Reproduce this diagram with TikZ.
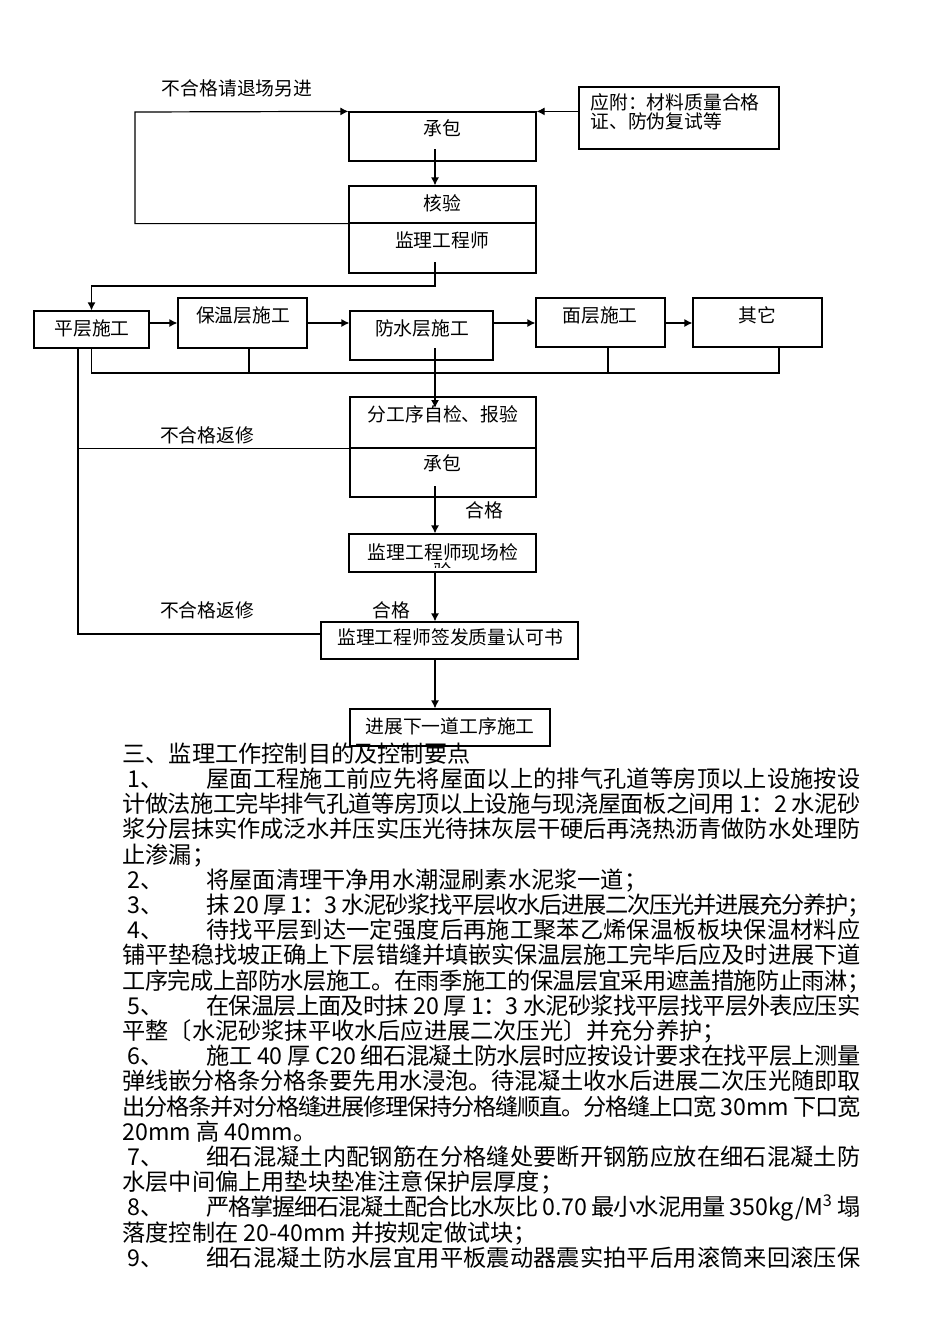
\documentclass[tikz,border=0pt]{standalone}
\usepackage{fontspec}
\setmainfont{Noto Sans CJK SC}
\usetikzlibrary{arrows.meta,fit}
% glue between CJK characters, so that lines can be justified
\newcount\cjkc
\cjkc="4E00
\loop
	\XeTeXcharclass\cjkc=1
	\advance\cjkc by 1
\ifnum\cjkc<"A000 \repeat
\XeTeXcharclass"3001=3 \XeTeXcharclass"3002=3 \XeTeXcharclass"FF1A=3
\XeTeXcharclass"FF1B=3 \XeTeXcharclass"3015=3 \XeTeXcharclass"3014=2
\newcommand{\cjkglue}{\hskip 0pt plus 2pt minus 1pt\relax}
\XeTeXinterchartokenstate=1
\XeTeXinterchartoks 1 1 = {\cjkglue}
\XeTeXinterchartoks 1 2 = {\cjkglue}
\XeTeXinterchartoks 1 3 = {\cjkglue}
\XeTeXinterchartoks 3 1 = {\cjkglue}
\XeTeXinterchartoks 3 2 = {\cjkglue}
\XeTeXinterchartoks 0 1 = {\cjkglue}
\XeTeXinterchartoks 1 0 = {\cjkglue}
\XeTeXinterchartoks 3 0 = {\cjkglue}
\XeTeXinterchartoks 0 3 = {\cjkglue}
\newcommand{\justline}[2]{\makebox[#1][s]{#2}}
\tikzset{
	box/.style={draw, line width=0.6pt, inner sep=0pt},
	line/.style={line width=0.6pt},
	arr/.style={line width=0.6pt, -{Latex[length=4pt,width=4pt]}},
	flow/.style={font=\fontsize{9.4pt}{9.6pt}\selectfont, inner sep=0pt},
	body/.style={font=\fontsize{11.6pt}{14pt}\selectfont, inner sep=0pt, anchor=base west}
}
\begin{document}
\begin{tikzpicture}[x=0.5pt,y=-0.5pt]
		\useasboundingbox (0,0) rectangle (950,1344);
		
		%\draw[style=help lines, step=50, color=gray] (0,0) grid (950,1344);
		
		% top: material check
		\node[box, fit={(349,112) (536,161)}] (cb1) {};
		\node[box, fit={(579,87) (779,149)}] (fj) {};
		\node[box, fit={(349,186) (536,223)}] (hy) {};
		\node[box, fit={(349,223) (536,273)}] (jl) {};
		\node[flow] (cb1-t) at (442,128) {承包};
		\node[flow, align=left, anchor=west] (fj-t) at (590,112) {应附：材料质量合格\\证、防伪复试等};
		\node[flow] (hy-t) at (442,203) {核验};
		\node[flow] (jl-t) at (442,240) {监理工程师};
		\node[flow] (l-back) at (237,88) {不合格请退场另进};
		
		\coordinate (tl) at (135,112);
		\draw[arr] (hy.south west) -| (tl) -- (cb1.north west);
		\draw[arr] (fj.west |- cb1.north east) -- (cb1.north east);
		\coordinate (cb1-o) at (435,149);
		\draw[arr] (cb1-o) -- (cb1-o |- hy.north);
		
		% row of works
		\node[box, fit={(34,311) (149,348)}] (pc) {};
		\node[box, fit={(178,298) (307,348)}] (bw) {};
		\node[box, fit={(350,311) (493,360)}] (fs) {};
		\node[box, fit={(536,298) (665,347)}] (mc) {};
		\node[box, fit={(693,298) (822,347)}] (qt) {};
		\node[flow] (pc-t) at (92,328) {平层施工};
		\node[flow] (bw-t) at (243,315) {保温层施工};
		\node[flow] (fs-t) at (422,328) {防水层施工};
		\node[flow] (mc-t) at (600,315) {面层施工};
		\node[flow] (qt-t) at (757,315) {其它};
		
		\coordinate (jl-o) at (435,262);
		\coordinate (turn1) at (435,286);
		\draw[arr] (jl-o) -- (turn1) -| (pc.north);
		
		\coordinate (row) at (0,323);
		\draw[arr] (pc.east |- row) -- (bw.west |- row);
		\draw[arr] (bw.east |- row) -- (fs.west |- row);
		\draw[arr] (fs.east |- row) -- (mc.west |- row);
		\draw[arr] (mc.east |- row) -- (qt.west |- row);
		
		\coordinate (bus) at (0,373);
		\coordinate (bw-o) at (249,348);
		\coordinate (mc-o) at (608,347);
		\coordinate (qt-o) at (779,347);
		\draw[line] (pc.south) |- (qt-o |- bus) -- (qt-o);
		\draw[line] (bw-o) -- (bw-o |- bus);
		\draw[line] (mc-o) -- (mc-o |- bus);
		
		% inspection
		\node[box, fit={(350,397) (536,448)}] (fgx) {};
		\node[box, fit={(350,448) (536,497)}] (cb2) {};
		\node[box, fit={(349,534) (536,572)}] (xc) {};
		\node[box, fit={(321,622) (578,659)}] (qf) {};
		\node[box, fit={(350,709) (550,746)}] (jz) {};
		\node[flow] (fgx-t) at (443,414) {分工序自检、报验};
		\node[flow] (cb2-t) at (442,463) {承包};
		\node[flow] (xc-t) at (443,552) {监理工程师现场检};
		\begin{scope}
			\clip (349,534) rectangle (536,567);
			\node[flow] (xc-t2) at (443,571) {验};
		\end{scope}
		\node[flow] (qf-t) at (450,637) {监理工程师签发质量认可书};
		\node[flow] (jz-t) at (450,726) {进展下一道工序施工};
		\node[flow] (l-fix1) at (207,435) {不合格返修};
		\node[flow] (l-fix2) at (207,610) {不合格返修};
		\node[flow] (l-ok1) at (484,510) {合格};
		\node[flow] (l-ok2) at (391,610) {合格};
		
		\coordinate (fs-o) at (435,348);
		\coordinate (fgx-i) at (435,408);
		\draw[arr] (fs-o) -- (fgx-i);
		\coordinate (cb2-o) at (435,486);
		\draw[arr] (cb2-o) -- (cb2-o |- xc.north);
		\draw[arr] (cb2-o |- xc.south) -- (cb2-o |- qf.north);
		\draw[arr] (cb2-o |- qf.south) -- (cb2-o |- jz.north);
		
		\coordinate (pc-o) at (78,348);
		\coordinate (lp) at (0,634);
		\draw[line] (pc-o) |- (qf.west |- lp);
		\draw[line] (pc-o |- fgx.south west) -- (fgx.south west);
		
		% text below
		\node[body] (s3) at (122,762) {三、监理工作控制目的及控制要点};
		\node[body] (n1) at (127,787) {1、};
		\node[body] (t1a) at (206,787) {\justline{327pt}{屋面工程施工前应先将屋面以上的排气孔道等房顶以上设施按设}};
		\node[body] (t1b) at (122,812) {\justline{369pt}{计做法施工完毕排气孔道等房顶以上设施与现浇屋面板之间用 1：2 水泥砂}};
		\node[body] (t1c) at (122,837) {\justline{369pt}{浆分层抹实作成泛水并压实压光待抹灰层干硬后再浇热沥青做防水处理防}};
		\node[body] (t1d) at (122,863) {止渗漏；};
		\node[body] (n2) at (127,888) {2、};
		\node[body] (t2a) at (206,888) {将屋面清理干净用水潮湿刷素水泥浆一道；};
		\node[body] (n3) at (127,913) {3、};
		\node[body] (t3a) at (206,913) {\justline{332pt}{抹 20 厚 1：3 水泥砂浆找平层收水后进展二次压光并进展充分养护；}};
		\node[body] (n4) at (127,938) {4、};
		\node[body] (t4a) at (206,938) {\justline{327pt}{待找平层到达一定强度后再施工聚苯乙烯保温板板块保温材料应}};
		\node[body] (t4b) at (122,963) {\justline{369pt}{铺平垫稳找坡正确上下层错缝并填嵌实保温层施工完毕后应及时进展下道}};
		\node[body] (t4c) at (122,989) {\justline{374pt}{工序完成上部防水层施工。在雨季施工的保温层宜采用遮盖措施防止雨淋；}};
		\node[body] (n5) at (127,1014) {5、};
		\node[body] (t5a) at (206,1014) {\justline{327pt}{在保温层上面及时抹 20 厚 1：3 水泥砂浆找平层找平层外表应压实}};
		\node[body] (t5b) at (122,1039) {平整〔水泥砂浆抹平收水后应进展二次压光〕并充分养护；};
		\node[body] (n6) at (127,1064) {6、};
		\node[body] (t6a) at (206,1064) {\justline{327pt}{施工 40 厚 C20 细石混凝土防水层时应按设计要求在找平层上测量}};
		\node[body] (t6b) at (122,1089) {\justline{369pt}{弹线嵌分格条分格条要先用水浸泡。待混凝土收水后进展二次压光随即取}};
		\node[body] (t6c) at (122,1115) {\justline{369pt}{出分格条并对分格缝进展修理保持分格缝顺直。分格缝上口宽 30mm 下口宽}};
		\node[body] (t6d) at (122,1140) {20mm 高 40mm。};
		\node[body] (n7) at (127,1165) {7、};
		\node[body] (t7a) at (206,1165) {\justline{327pt}{细石混凝土内配钢筋在分格缝处要断开钢筋应放在细石混凝土防}};
		\node[body] (t7b) at (122,1190) {水层中间偏上用垫块垫准注意保护层厚度；};
		\node[body] (n8) at (127,1215) {8、};
		\node[body] (t8a) at (206,1215) {\justline{327pt}{严格掌握细石混凝土配合比水灰比 0.70 最小水泥用量 350kg/M\textsuperscript{3} 塌}};
		\node[body] (t8b) at (122,1241) {落度控制在 20-40mm 并按规定做试块；};
		\node[body] (n9) at (127,1266) {9、};
		\node[body] (t9a) at (206,1266) {\justline{327pt}{细石混凝土防水层宜用平板震动器震实拍平后用滚筒来回滚压保}};
		
\end{tikzpicture}
\end{document}
